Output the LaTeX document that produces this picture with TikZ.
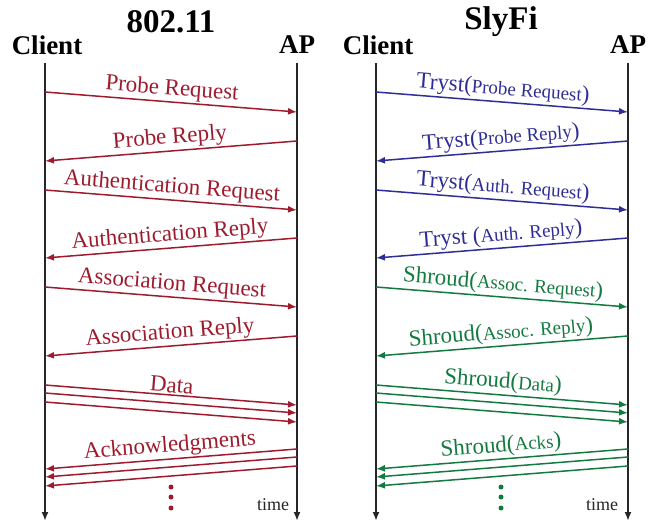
\documentclass[tikz,border=0pt]{standalone}
\usepackage{fontspec}
\setmainfont{Liberation Serif}
\usetikzlibrary{arrows.meta}
\definecolor{msgred}{RGB}{158,27,46}
\definecolor{msgblue}{RGB}{46,46,150}
\definecolor{msggreen}{RGB}{19,122,64}
\tikzset{
 lifeline/.style={line width=1.8pt,black!85,-{Latex[length=9pt,width=7pt]}},
 msg/.style={line width=1.5pt,-{Latex[length=9pt,width=7pt]}},
 msglabel/.style={midway,sloped,above,inner sep=1.5pt,font=\fontsize{23}{26}\selectfont},
 headlabel/.style={font=\fontsize{27}{30}\selectfont\bfseries},
 titlelabel/.style={font=\fontsize{33}{36}\selectfont\bfseries},
 timelabel/.style={font=\fontsize{18}{20}\selectfont,black!85}
}
\newcommand{\smallpart}[1]{{\fontsize{19}{22}\selectfont #1}}

\begin{document}
\begin{tikzpicture}[x=1pt,y=-1pt]
\useasboundingbox (0,0) rectangle (654,523);
%Titles of the two protocols
\node [titlelabel] (title80211) at (171,22) {802.11};
\node [titlelabel] (titleSlyFi) at (501,22) {SlyFi};
%Heads of the lifelines
\node [headlabel] (clientL) at (47,45) {Client};
\node [headlabel] (apL) at (297,45) {AP};
\node [headlabel] (clientR) at (378,45) {Client};
\node [headlabel] (apR) at (628,45) {AP};
%Lifelines pointing downwards
\foreach \n/\x in {cL/45,aL/297,cR/376,aR/628} {
 	\coordinate (\n top) at (\x,63);
 	\coordinate (\n bot) at (\x,521);
 	\draw [lifeline] (\n top) -- (\n bot);
}
%End points of the messages on the lifelines
\foreach \i/\ys/\ye in {1/92/112,2/141/161,3/190/210,4/238/258,5/287/307,6/336/356,7/385/405,8/393/413,9/402/422,10/449/469,11/457/477,12/466/486} {
 	\coordinate (cL\i) at (45,\ys);
 	\coordinate (aL\i) at (297,\ye);
 	\coordinate (cR\i) at (376,\ys);
 	\coordinate (aR\i) at (628,\ye);
 	\coordinate (bL\i) at (297,\ys);
 	\coordinate (dL\i) at (45,\ye);
 	\coordinate (bR\i) at (628,\ys);
 	\coordinate (dR\i) at (376,\ye);
}
%802.11 handshake
\draw [msg,msgred] (cL1) -- (aL1) node [msglabel] {Probe Request};
\draw [msg,msgred] (bL2) -- (dL2) node [msglabel] {Probe Reply};
\draw [msg,msgred] (cL3) -- (aL3) node [msglabel] {Authentication Request};
\draw [msg,msgred] (bL4) -- (dL4) node [msglabel] {Authentication Reply};
\draw [msg,msgred] (cL5) -- (aL5) node [msglabel] {Association Request};
\draw [msg,msgred] (bL6) -- (dL6) node [msglabel] {Association Reply};
%802.11 data and acknowledgments
\draw [msg,msgred] (cL7) -- (aL7) node [msglabel] {Data};
\draw [msg,msgred] (cL8) -- (aL8);
\draw [msg,msgred] (cL9) -- (aL9);
\draw [msg,msgred] (bL10) -- (dL10) node [msglabel] {Acknowledgments};
\draw [msg,msgred] (bL11) -- (dL11);
\draw [msg,msgred] (bL12) -- (dL12);
%SlyFi handshake
\draw [msg,msgblue] (cR1) -- (aR1) node [msglabel] {Tryst(\smallpart{Probe Request})};
\draw [msg,msgblue] (bR2) -- (dR2) node [msglabel] {Tryst(\smallpart{Probe Reply})};
\draw [msg,msgblue] (cR3) -- (aR3) node [msglabel] {Tryst(\smallpart{Auth. Request})};
\draw [msg,msgblue] (bR4) -- (dR4) node [msglabel] {Tryst (\smallpart{Auth. Reply})};
\draw [msg,msggreen] (cR5) -- (aR5) node [msglabel] {Shroud(\smallpart{Assoc. Request})};
\draw [msg,msggreen] (bR6) -- (dR6) node [msglabel] {Shroud(\smallpart{Assoc. Reply})};
%SlyFi data and acknowledgments
\draw [msg,msggreen] (cR7) -- (aR7) node [msglabel] {Shroud(\smallpart{Data})};
\draw [msg,msggreen] (cR8) -- (aR8);
\draw [msg,msggreen] (cR9) -- (aR9);
\draw [msg,msggreen] (bR10) -- (dR10) node [msglabel] {Shroud(\smallpart{Acks})};
\draw [msg,msggreen] (bR11) -- (dR11);
\draw [msg,msggreen] (bR12) -- (dR12);
%Dots and time
\foreach \y in {487,497,508} {
 	\fill [msgred] (171,\y) circle (2.5);
 	\fill [msggreen] (501,\y) circle (2.5);
}
\node [timelabel] (timeL) at (273,505) {time};
\node [timelabel] (timeR) at (602,505) {time};
\end{tikzpicture}
\end{document}
